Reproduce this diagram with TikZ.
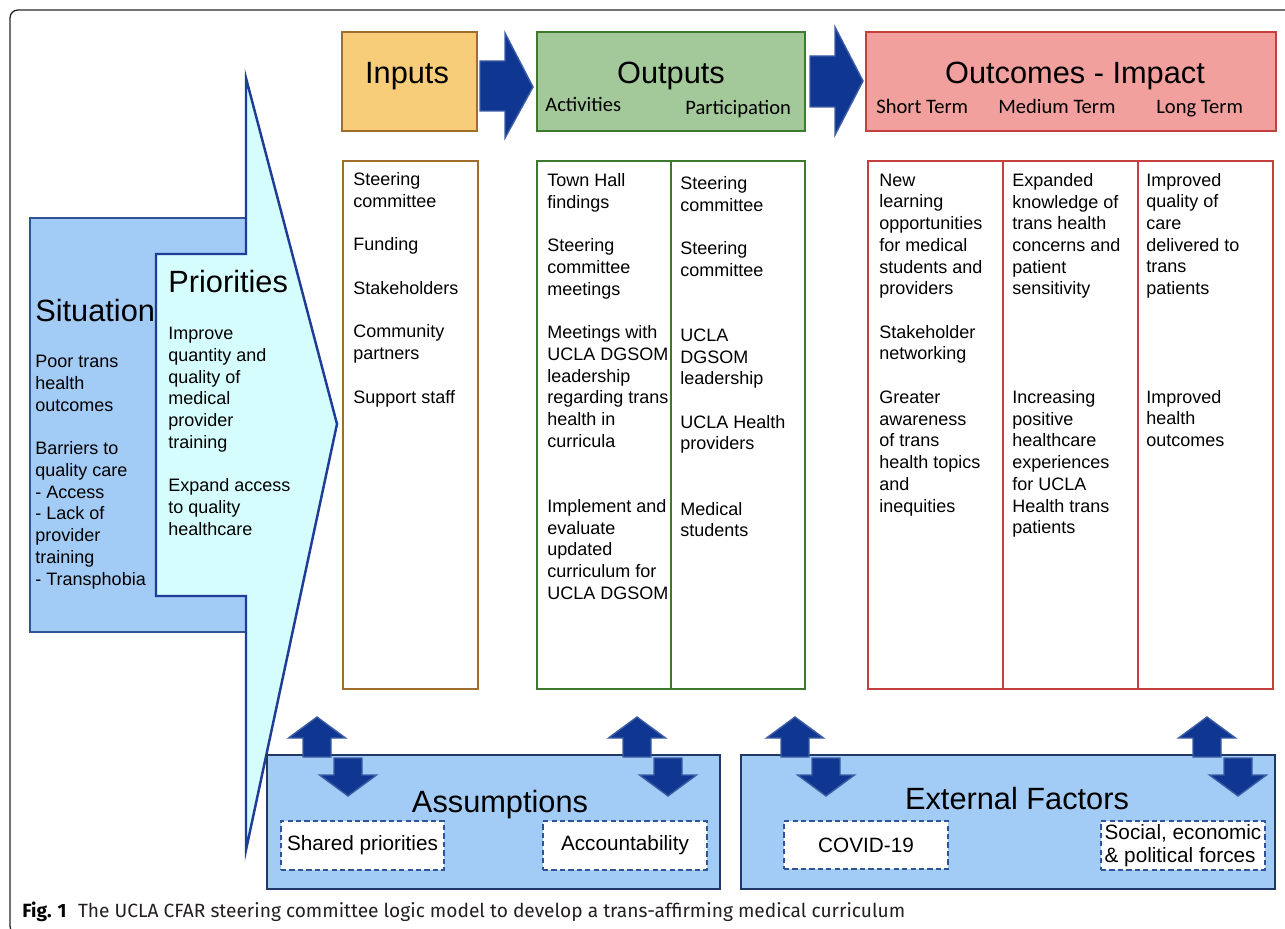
\documentclass[tikz,border=0pt]{standalone}
\usepackage{fontspec}
\setmainfont{Liberation Sans}
\newfontfamily\subfont{Carlito}
\newfontfamily\capfont{Fira Sans}
\usetikzlibrary{positioning,calc}

\definecolor{infill}{HTML}{F8CD79}
\definecolor{inline}{HTML}{A06E2C}
\definecolor{outfill}{HTML}{A3C99A}
\definecolor{outline}{HTML}{3D7A2D}
\definecolor{oimfill}{HTML}{F2A09D}
\definecolor{oimline}{HTML}{C4403F}
\definecolor{sitfill}{HTML}{A2CBF5}
\definecolor{sitline}{HTML}{2F5597}
\definecolor{prifill}{HTML}{D6FDFD}
\definecolor{priline}{HTML}{1F3D96}
\definecolor{assline}{HTML}{203864}
\definecolor{arrfill}{HTML}{0F3690}
\definecolor{arrline}{HTML}{3D5DA5}
\definecolor{capgray}{HTML}{231F20}

\newlength\blankrow
\setlength\blankrow{12.36pt}

\tikzset{
  box/.style={line width=1.1pt},
  thickbox/.style={line width=1.4pt},
  title/.style={font=\fontsize{17.5}{21}\selectfont, inner sep=0pt, anchor=base},
  subhd/.style={font=\subfont\fontsize{11.7}{14}\selectfont, inner sep=0pt, anchor=base west},
  % anchored at the baseline of the last line
  col/.style={font=\fontsize{10.25}{12.36}\selectfont, align=left, inner sep=0pt, anchor=base west},
  blockarrow/.style={fill=arrfill, draw=arrline, line width=0.8pt, line join=miter},
  dashbox/.style={draw=sitline, dashed, dash pattern=on 3pt off 1.8pt, line width=1.2pt,
    fill=white, font=\fontsize{11.8}{13}\selectfont, inner sep=0pt, minimum height=0.97cm}
}

\begin{document}
\begin{tikzpicture}[x=0.02cm, y=-0.02cm]
  \useasboundingbox (0,0) rectangle (1285,929);
  \draw[line width=0.75pt, draw=black!85, rounded corners=4.5pt] (10,10) rectangle (1300,934);

  % header row
  \draw[thickbox, fill=infill, draw=inline] (342,32) rectangle (477,131);
  \draw[thickbox, fill=outfill, draw=outline] (537,32) rectangle (805,131);
  \draw[thickbox, fill=oimfill, draw=oimline] (866,32) rectangle (1276,131);
  \node[title] (inputs) at (407,84) {Inputs};
  \node[title] (outputs) at (671,84) {Outputs};
  \node[title] (outcomes) at (1075,84) {Outcomes - Impact};
  \node[subhd] (act) at (545,112) {Activities};
  \node[subhd] (part) at (685,115) {Participation};
  \node[subhd] (short) at (876,114) {Short Term};
  \node[subhd] (medium) at (998,114) {Medium Term};
  \node[subhd] (long) at (1156,114) {Long Term};
  \draw[blockarrow] (480,61) -- (505,61) -- (505,33) -- (533,87) -- (505,138) -- (505,111) -- (480,111) -- cycle;
  \draw[blockarrow] (810,56) -- (835,56) -- (835,27) -- (863,81) -- (835,135) -- (835,107) -- (810,107) -- cycle;

  % columns
  \draw[box, draw=inline] (343,161) rectangle (478,689);
  \draw[box, draw=outline] (537,161) rectangle (805,689);
  \draw[box, draw=outline] (671,161) -- (671,689);
  \draw[box, draw=oimline] (868,161) rectangle (1273,689);
  \draw[box, draw=oimline] (1003,161) -- (1003,689);
  \draw[box, draw=oimline] (1138,161) -- (1138,689);
  \node[col] (inlist) at (353,403) {Steering\\committee\\[\blankrow]Funding\\[\blankrow]Stakeholders\\[\blankrow]Community\\partners\\[\blankrow]Support staff};
  \node[col] (actlist) at (547,599.2) {Town Hall\\findings\\[\blankrow]Steering\\committee\\meetings\\[\blankrow]Meetings with\\UCLA DGSOM\\leadership\\regarding trans\\health in\\curricula\\[2\blankrow]Implement and\\evaluate\\updated\\curriculum for\\UCLA DGSOM};
  \node[col] (partlist) at (680,536.8) {Steering\\committee\\[\blankrow]Steering\\committee\\[2\blankrow]UCLA\\DGSOM\\leadership\\[\blankrow]UCLA Health\\providers\\[2\blankrow]Medical\\students};
  \node[col] (shortlist) at (879,512) {New\\learning\\opportunities\\for medical\\students and\\providers\\[\blankrow]Stakeholder\\networking\\[\blankrow]Greater\\awareness\\of trans\\health topics\\and\\inequities};
  \node[col] (medlist) at (1012,533.8) {Expanded\\knowledge of\\trans health\\concerns and\\patient\\sensitivity\\[4\blankrow]Increasing\\positive\\healthcare\\experiences\\for UCLA\\Health trans\\patients};
  \node[col] (longlist) at (1146,446.6) {Improved\\quality of\\care\\delivered to\\trans\\patients\\[4\blankrow]Improved\\health\\outcomes};

  % situation and priorities
  \draw[thickbox, fill=sitfill, draw=sitline] (30,218) rectangle (246,632);
  \draw[thickbox, fill=prifill, draw=priline, line join=miter] (246,78) -- (337,424) -- (246,850) -- (246,596) -- (156,596) -- (156,254) -- (246,254) -- cycle;
  \node[title, anchor=base west] (sit) at (35,321) {Situation};
  \node[title, anchor=base west] (pri) at (168,293) {Priorities};
  \node[col] (sitlist) at (35,585) {Poor trans\\health\\outcomes\\[\blankrow]Barriers to\\quality care\\- Access\\- Lack of\\provider\\training\\- Transphobia};
  \node[col] (prilist) at (168,535.2) {Improve\\quantity and\\quality of\\medical\\provider\\training\\[\blankrow]Expand access\\to quality\\healthcare};

  % assumptions and external factors
  \draw[thickbox, fill=sitfill, draw=assline] (267,755) rectangle (720,889);
  \draw[thickbox, fill=sitfill, draw=assline] (741,755) rectangle (1275,889);
  \foreach \cx in {317,637,795,1207} {
    \draw[blockarrow] ({\cx-14},757) -- ({\cx-14},738) -- ({\cx-28.5},738) -- (\cx,717)
      -- ({\cx+28.5},738) -- ({\cx+14},738) -- ({\cx+14},757) -- cycle;
    \draw[blockarrow] ({\cx+17},758) -- ({\cx+17},775) -- ({\cx+2.5},775) -- ({\cx+31},796)
      -- ({\cx+59.5},775) -- ({\cx+45},775) -- ({\cx+45},758) -- cycle;
  }
  \node[title] (assum) at (500,812) {Assumptions};
  \node[title] (extf) at (1017,809) {External Factors};
  \node[dashbox, minimum width=3.26cm] (shared) at (362.5,845.5) {Shared priorities};
  \node[dashbox, minimum width=3.28cm] (account) at (625,845.5) {Accountability};
  \node[dashbox, minimum width=3.28cm] (covid) at (866,845) {COVID-19};
  \node[dashbox, minimum width=3.28cm, align=left] (social) at (1183,845.5) {Social, economic\\\& political forces};

  % caption
  \node[anchor=base west, inner sep=0pt, text=capgray, font=\capfont\fontsize{10.9}{13}\selectfont] (cap) at (22,917)
    {\textbf{\color{black}Fig. 1}\hspace{0.6em}The UCLA CFAR steering committee logic model to develop a trans-affirming medical curriculum};
\end{tikzpicture}
\end{document}
